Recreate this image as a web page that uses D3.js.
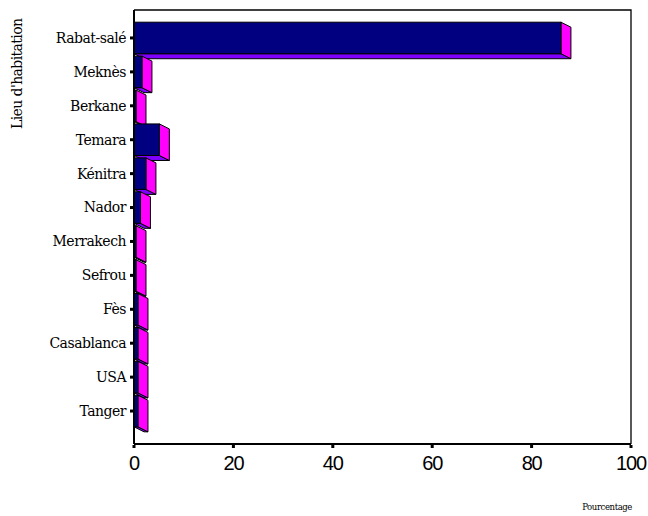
<!DOCTYPE html>
<html>
<head>
<meta charset="utf-8">
<script src="https://cdn.jsdelivr.net/npm/d3@7"></script>
<style>
  html, body { margin: 0; padding: 0; background: #fff; }
  svg { display: block; }
</style>
</head>
<body>
<svg id="chart" width="648" height="516"></svg>
<script>
// Lieu d'habitation des répondants (pourcentage)
const categories = ["Rabat-salé", "Meknès", "Berkane", "Temara", "Kénitra", "Nador",
                    "Merrakech", "Sefrou", "Fès", "Casablanca", "USA", "Tanger"];
const percentages = [85.9, 1.6, 0.4, 5.1, 2.4, 1.3, 0.4, 0.4, 0.8, 0.8, 0.8, 0.8];
const xTicks = [0, 20, 40, 60, 80, 100];
const yTitle = "Lieu d'habitation";
const xTitle = "Pourcentage";

const svg = d3.select("#chart");

const plot = { left: 134, right: 631, top: 10, bottom: 444 };
const depth = { dx: 10, dy: 5 };

const x = d3.scaleLinear().domain([0, 100]).range([plot.left, plot.right]);
const y = d3.scaleBand().domain(categories).range([21, 428]).paddingInner(0.07).paddingOuter(0.035);

const data = categories.map((c, i) => ({ cat: c, value: percentages[i] }));

// frame (top and right edges)
svg.append("path")
  .attr("d", `M${plot.left},${plot.top}H${plot.right}V${plot.bottom}`)
  .attr("fill", "none").attr("stroke", "#000").attr("stroke-width", 1.3);

// 3D bars: bottom face, end face, then front face
const bars = svg.append("g").selectAll("g").data(data).join("g");

bars.append("path")
  .attr("d", d => {
    const x0 = x(0), x1 = x(d.value), yb = y(d.cat) + y.bandwidth();
    return `M${x0},${yb}L${x1},${yb}L${x1 + depth.dx},${yb + depth.dy}L${x0 + depth.dx},${yb + depth.dy}Z`;
  })
  .attr("fill", "#7f00ff").attr("stroke", "#000").attr("stroke-width", 1).attr("stroke-linejoin", "round");

bars.append("path")
  .attr("d", d => {
    const x1 = x(d.value), yt = y(d.cat), yb = yt + y.bandwidth();
    return `M${x1},${yt}L${x1 + depth.dx},${yt + depth.dy}L${x1 + depth.dx},${yb + depth.dy}L${x1},${yb}Z`;
  })
  .attr("fill", "#ff00ff").attr("stroke", "#000").attr("stroke-width", 1).attr("stroke-linejoin", "round");

bars.append("rect")
  .attr("x", x(0))
  .attr("y", d => y(d.cat))
  .attr("width", d => x(d.value) - x(0))
  .attr("height", y.bandwidth())
  .attr("fill", "#000080").attr("stroke", "#000").attr("stroke-width", 1);

// axes lines
svg.append("line").attr("x1", plot.left).attr("x2", plot.left)
  .attr("y1", plot.top).attr("y2", plot.bottom)
  .attr("stroke", "#000").attr("stroke-width", 2);
svg.append("line").attr("x1", plot.left).attr("x2", plot.right)
  .attr("y1", plot.bottom).attr("y2", plot.bottom)
  .attr("stroke", "#000").attr("stroke-width", 2);

// category ticks and labels
const yAxis = svg.append("g");
yAxis.selectAll("rect").data(categories).join("rect")
  .attr("x", plot.left - 4).attr("y", d => y(d) + y.bandwidth() / 2 - 1.5)
  .attr("width", 3).attr("height", 3).attr("fill", "#000");
yAxis.selectAll("text").data(categories).join("text")
  .attr("x", plot.left - 8)
  .attr("y", d => y(d) + y.bandwidth() / 2)
  .attr("dy", "0.35em")
  .attr("text-anchor", "end")
  .attr("font-family", "DejaVu Serif")
  .attr("font-size", 14)
  .attr("letter-spacing", -0.5)
  .attr("fill", "#000")
  .text(d => d);

// value ticks and labels
const xAxis = svg.append("g");
xAxis.selectAll("rect").data(xTicks).join("rect")
  .attr("x", d => x(d) - 1.5).attr("y", plot.bottom + 1)
  .attr("width", 3).attr("height", 3).attr("fill", "#000");
xAxis.selectAll("text").data(xTicks).join("text")
  .attr("x", d => x(d))
  .attr("y", 470)
  .attr("text-anchor", "middle")
  .attr("font-family", "Liberation Sans, Arial, sans-serif")
  .attr("font-size", 20)
  .attr("letter-spacing", -1.2)
  .attr("fill", "#000")
  .text(d => d);

// titles
svg.append("text")
  .attr("transform", "translate(22,129) rotate(-90)")
  .attr("text-anchor", "start")
  .attr("font-family", "DejaVu Serif")
  .attr("font-size", 14)
  .attr("letter-spacing", -0.6)
  .attr("fill", "#000")
  .text(yTitle);

svg.append("text")
  .attr("x", 632).attr("y", 510)
  .attr("text-anchor", "end")
  .attr("font-family", "DejaVu Serif")
  .attr("font-size", 8.5)
  .attr("letter-spacing", -0.4)
  .attr("fill", "#000")
  .text(xTitle);
</script>
</body>
</html>
